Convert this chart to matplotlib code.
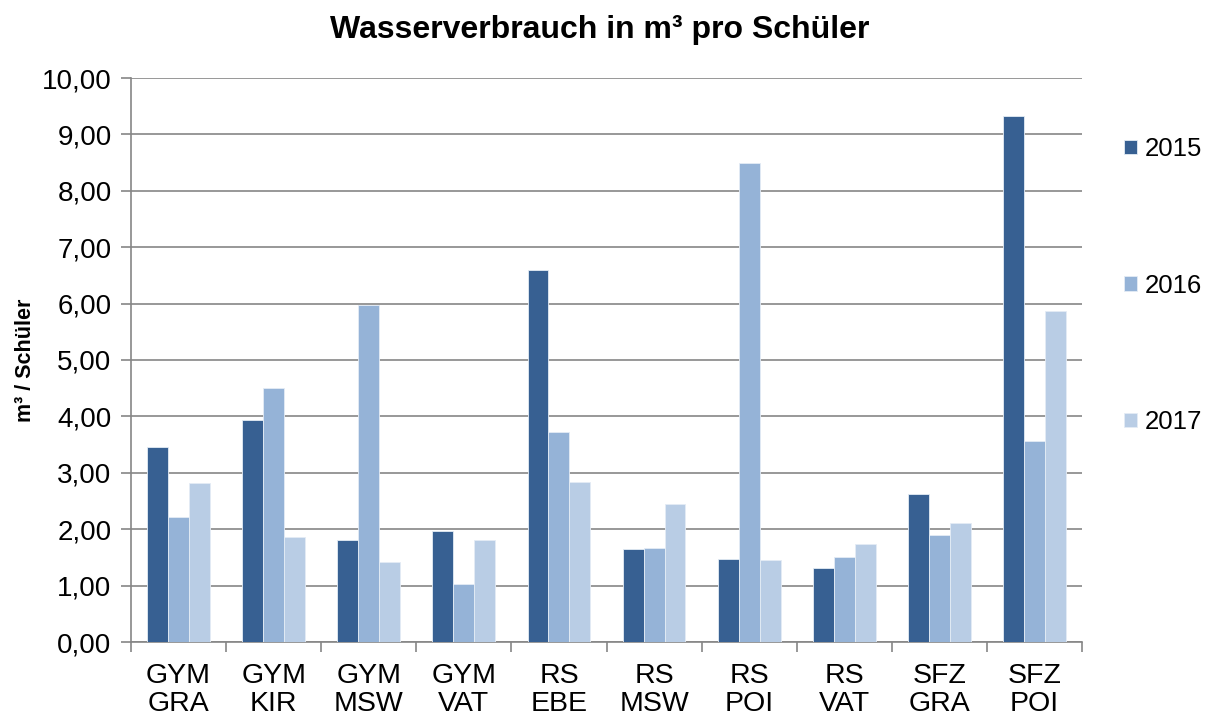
import numpy as np
import matplotlib
matplotlib.use("Agg")
import matplotlib.pyplot as plt
from matplotlib.ticker import FixedLocator, FuncFormatter

plt.rcParams['font.family'] = ['Liberation Sans', 'DejaVu Sans']

schools = ['GYM\nGRA', 'GYM\nKIR', 'GYM\nMSW', 'GYM\nVAT', 'RS\nEBE',
           'RS\nMSW', 'RS\nPOI', 'RS\nVAT', 'SFZ\nGRA', 'SFZ\nPOI']
years = ['2015', '2016', '2017']
v2015 = [3.45, 3.94, 1.80, 1.96, 6.60, 1.65, 1.48, 1.31, 2.62, 9.33]
v2016 = [2.22, 4.50, 5.98, 1.03, 3.72, 1.67, 8.50, 1.50, 1.89, 3.57]
v2017 = [2.82, 1.86, 1.41, 1.80, 2.84, 2.45, 1.46, 1.73, 2.11, 5.86]
colors = ['#376092', '#95b3d7', '#b9cde5']

fig = plt.figure(figsize=(12.05, 7.22), dpi=100)
ax = fig.add_axes([131 / 1205, 1 - 642 / 722, (1082 - 131) / 1205, (642 - 78) / 722])

x = np.arange(len(schools))
w = 0.22
for i, (vals, yr) in enumerate(zip([v2015, v2016, v2017], years)):
    ax.bar(x + (i - 1) * w, vals, width=w, color=colors[i], label=yr,
           edgecolor='#e4ecf5', linewidth=0.6, zorder=3)

ax.set_xlim(-0.5, len(schools) - 0.5)
ax.set_ylim(0, 10)
ax.set_yticks(np.arange(0, 11, 1))
ax.yaxis.set_major_formatter(FuncFormatter(lambda v, p: f'{v:.2f}'.replace('.', ',')))
ax.set_xticks(x)
ax.set_xticklabels(schools, linespacing=1.1)
ax.xaxis.set_minor_locator(FixedLocator(np.arange(-0.5, len(schools), 1)))
ax.tick_params(axis='x', which='major', length=0, pad=15, labelsize=20.5)
ax.tick_params(axis='x', which='minor', length=7, width=1.2, color='#868686', direction='out')
ax.tick_params(axis='y', length=7, width=1.2, color='#868686', labelsize=20, pad=7)

ax.grid(axis='y', color='#868686', linewidth=1.2, zorder=0)
for s in ['top', 'right']:
    ax.spines[s].set_visible(False)
for s in ['left', 'bottom']:
    ax.spines[s].set_color('#868686')
    ax.spines[s].set_linewidth(1.2)
ax.set_axisbelow(True)

ax.set_ylabel('m³ / Schüler', fontsize=15.5, fontweight='bold', labelpad=4)
fig.text(600 / 1205, 1 - 30 / 722, 'Wasserverbrauch in m³ pro Schüler',
         ha='center', va='center', fontsize=23, fontweight='bold')

fig.legend(loc='upper left', bbox_to_anchor=(1124 / 1205, 1 - 137 / 722),
           frameon=False, fontsize=18.5, handlelength=0.5, handleheight=0.5,
           handletextpad=0.3, labelspacing=4.38, borderpad=0, borderaxespad=0)

fig.savefig('out.png', dpi=100)
